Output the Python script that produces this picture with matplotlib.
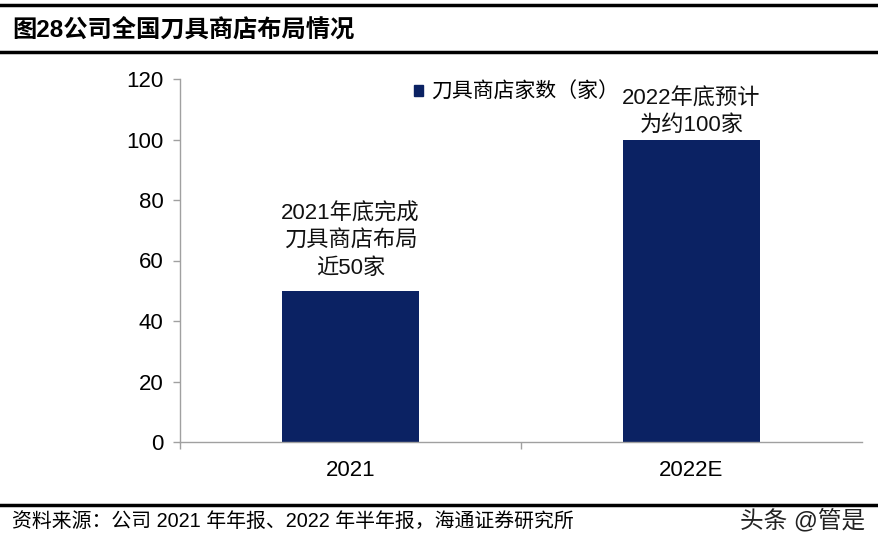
import matplotlib.pyplot as plt
from matplotlib.lines import Line2D
from matplotlib.patches import Patch

plt.rcParams['font.family'] = ['Liberation Sans', 'Noto Sans CJK SC', 'DejaVu Sans']

categories = ['2021', '2022E']
stores = [50, 100]
notes = ['2021年底完成\n刀具商店布局\n近50家', '2022年底预计\n为约100家']
series_name = '刀具商店家数（家）'
title = '图28公司全国刀具商店布局情况'
source = '资料来源：公司 2021 年年报、2022 年半年报，海通证券研究所'
watermark = '头条 @管是'

bar_color = '#0b2263'
axis_color = '#a0a0a0'

fig = plt.figure(figsize=(8.79, 5.47), dpi=100)
ax = fig.add_axes([180 / 879, 1 - 442 / 547, 682 / 879, 363 / 547])

x = list(range(len(categories)))
ax.bar(x, stores, width=0.40, color=bar_color, zorder=2)

ax.set_xlim(-0.5, len(categories) - 0.5)
ax.set_ylim(0, 120)
ax.set_yticks(range(0, 121, 20))
ax.tick_params(axis='y', labelsize=16, color=axis_color, length=5, width=1, pad=7)

ax.set_xticks(x)
ax.set_xticklabels(categories, fontsize=16)
ax.tick_params(axis='x', length=0, pad=13)
ax.set_xticks([i + 0.5 for i in x[:-1]] + [-0.5], minor=True)
ax.tick_params(axis='x', which='minor', length=5, color=axis_color, width=1)

for s in ['top', 'right']:
    ax.spines[s].set_visible(False)
for s in ['left', 'bottom']:
    ax.spines[s].set_color(axis_color)
    ax.spines[s].set_linewidth(1)

# annotations above bars
note_y = [66.4, 109]
for xi, txt, yy in zip(x, notes, note_y):
    ax.text(xi, yy, txt, ha='center', va='center', fontsize=16,
            linespacing=1.38, color='#111111')

leg = ax.legend(handles=[Patch(color=bar_color, label=series_name)],
                loc='upper left', bbox_to_anchor=(0.315, 1.045), frameon=False,
                fontsize=15, handlelength=0.45, handleheight=0.45,
                handletextpad=0.4)

# frame lines and texts of the report page
fig.add_artist(Line2D([0, 1], [1 - 5 / 547, 1 - 5 / 547], color='black', lw=2.5))
fig.add_artist(Line2D([0, 1], [1 - 52 / 547, 1 - 52 / 547], color='black', lw=2.5))
fig.add_artist(Line2D([0, 1], [1 - 505 / 547, 1 - 505 / 547], color='black', lw=2.5))

fig.text(12 / 879, 1 - 30 / 547, title, fontsize=17.5, fontweight='bold',
         va='center', ha='left')
fig.text(12 / 879, 1 - 521 / 547, source, fontsize=14.3, va='center', ha='left')
fig.text(865 / 879, 1 - 521 / 547, watermark, fontsize=17, va='center',
         ha='right', color='#222222')

fig.savefig('out.png', dpi=100)
